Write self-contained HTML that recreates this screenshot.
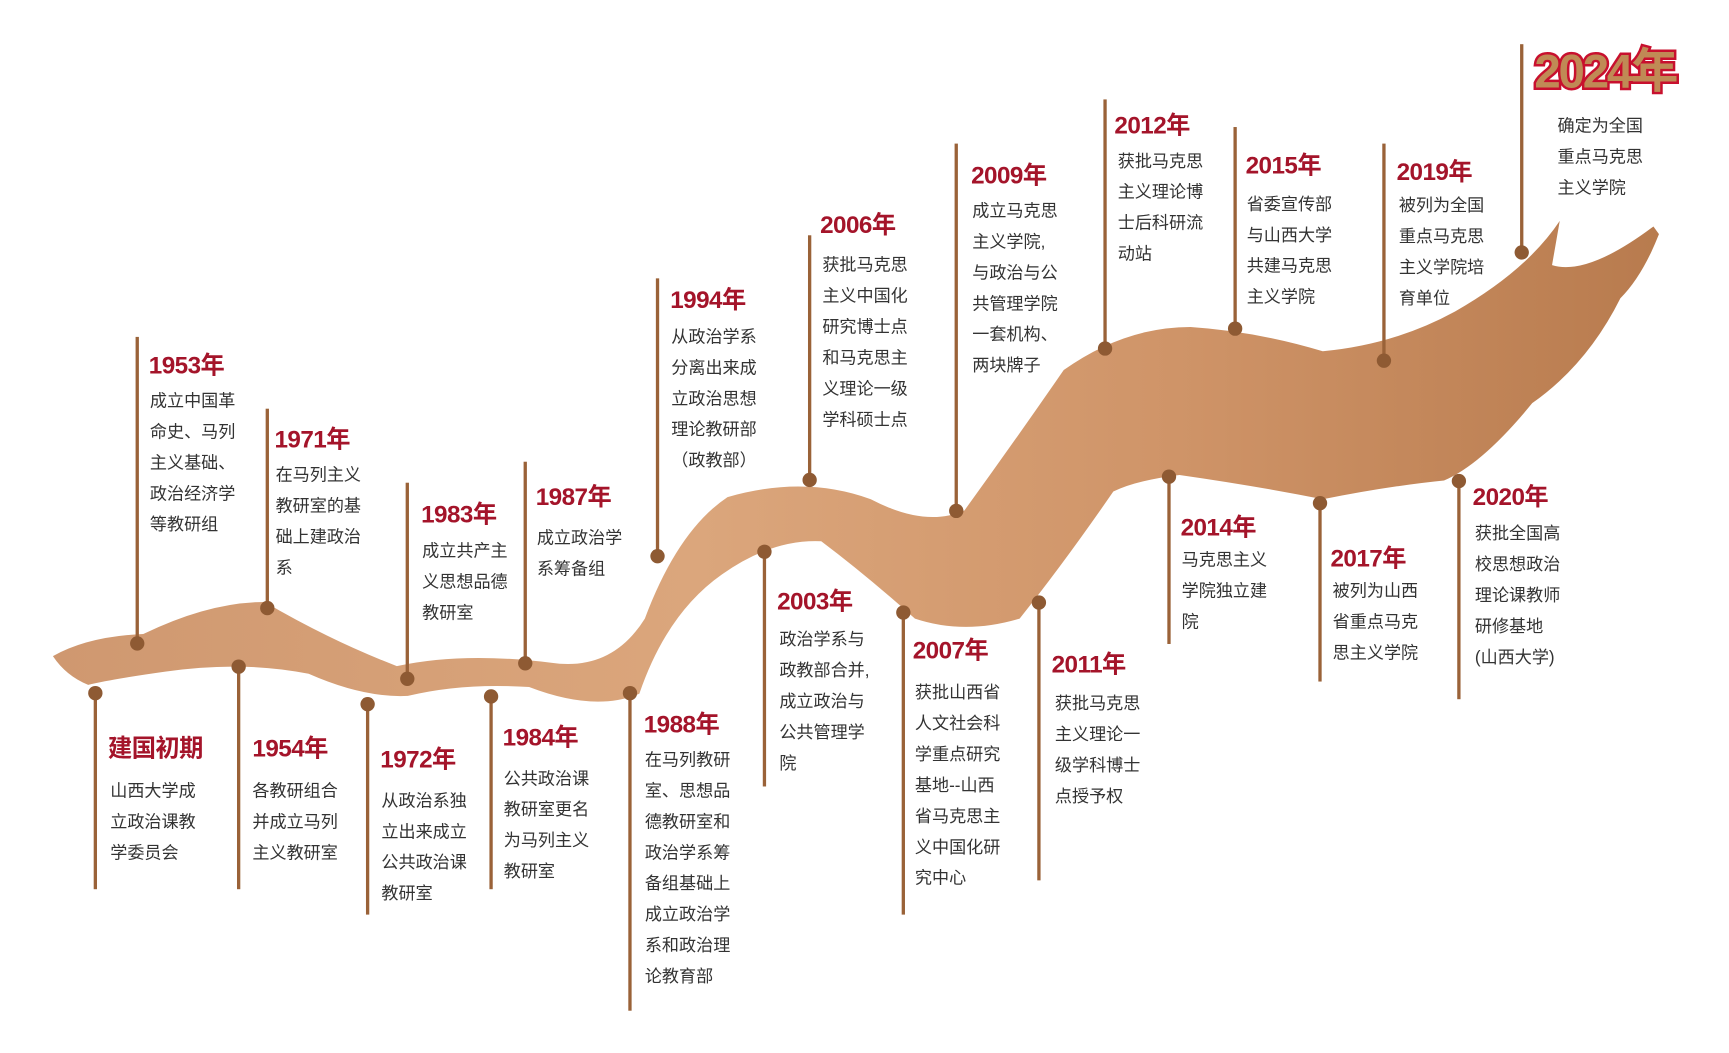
<!DOCTYPE html>
<html><head><meta charset="utf-8"><style>
html,body{margin:0;padding:0;background:#fff;}
body{width:1729px;height:1053px;overflow:hidden;position:relative;}
#w{position:absolute;left:0;top:0;width:1560px;height:950px;transform:scale(1.1023,1.1046);transform-origin:0 0;font-family:"Liberation Sans","Noto Sans CJK SC",sans-serif;}
.t{position:absolute;color:#a4142a;font-weight:bold;font-size:22px;line-height:28px;white-space:nowrap;letter-spacing:-0.5px;}
.b{position:absolute;color:#333;font-size:15.5px;line-height:28px;white-space:nowrap;}
.l{position:absolute;width:2.5px;background:#9a6238;}
.d{position:absolute;width:13px;height:13px;border-radius:50%;background:#8e5a33;margin:-6.5px 0 0 -6.5px;}
</style></head><body><div id="w">
<svg width="1560" height="950" style="position:absolute;left:0;top:0">
<defs><linearGradient id="g" x1="0" y1="0" x2="1" y2="0">
<stop offset="0" stop-color="#cf9870"/><stop offset="0.4" stop-color="#dba67c"/><stop offset="0.7" stop-color="#cf9468"/><stop offset="1" stop-color="#b87b4e"/></linearGradient></defs>
<path fill="url(#g)" d="M48,594 Q80,576 130,574 Q190,545 240,545 Q300,580 360,603 Q420,590 500,600 Q555,608 585,560 Q615,480 660,450 Q730,430 790,452 Q840,478 875,462 Q920,400 965,335 Q1020,296 1080,296 Q1140,300 1200,318 Q1265,312 1320,282 Q1385,245 1415,200 L1408,240 Q1440,250 1500,205 L1505,212 Q1490,250 1470,270 Q1440,330 1390,365 Q1345,420 1310,435 Q1260,440 1200,452 Q1140,440 1070,430 Q1030,435 1010,445 Q965,510 925,560 Q875,575 830,560 Q785,520 745,490 Q700,488 655,520 Q605,555 580,628 Q540,645 480,622 Q420,618 370,630 Q330,632 280,610 Q220,598 150,608 Q100,615 80,620 Q60,612 48,594 Z"/>
</svg>
<div class="l" style="left:85px;top:627px;height:178px"></div><div class="d" style="left:86px;top:627px"></div>
<div class="l" style="left:123px;top:305px;height:277px"></div><div class="d" style="left:124px;top:582px"></div>
<div class="l" style="left:215px;top:603px;height:202px"></div><div class="d" style="left:216px;top:603px"></div>
<div class="l" style="left:241px;top:370px;height:180px"></div><div class="d" style="left:242px;top:550px"></div>
<div class="l" style="left:332px;top:637px;height:191px"></div><div class="d" style="left:333px;top:637px"></div>
<div class="l" style="left:368px;top:437px;height:177px"></div><div class="d" style="left:369px;top:614px"></div>
<div class="l" style="left:444px;top:630px;height:175px"></div><div class="d" style="left:445px;top:630px"></div>
<div class="l" style="left:475px;top:418px;height:182px"></div><div class="d" style="left:476px;top:600px"></div>
<div class="l" style="left:570px;top:627px;height:288px"></div><div class="d" style="left:571px;top:627px"></div>
<div class="l" style="left:595px;top:252px;height:251px"></div><div class="d" style="left:596px;top:503px"></div>
<div class="l" style="left:692px;top:499px;height:213px"></div><div class="d" style="left:693px;top:499px"></div>
<div class="l" style="left:733px;top:213px;height:221px"></div><div class="d" style="left:734px;top:434px"></div>
<div class="l" style="left:818px;top:554px;height:274px"></div><div class="d" style="left:819px;top:554px"></div>
<div class="l" style="left:866px;top:130px;height:332px"></div><div class="d" style="left:867px;top:462px"></div>
<div class="l" style="left:941px;top:545px;height:252px"></div><div class="d" style="left:942px;top:545px"></div>
<div class="l" style="left:1001px;top:90px;height:225px"></div><div class="d" style="left:1002px;top:315px"></div>
<div class="l" style="left:1059px;top:431px;height:152px"></div><div class="d" style="left:1060px;top:431px"></div>
<div class="l" style="left:1119px;top:115px;height:182px"></div><div class="d" style="left:1120px;top:297px"></div>
<div class="l" style="left:1196px;top:455px;height:162px"></div><div class="d" style="left:1197px;top:455px"></div>
<div class="l" style="left:1254px;top:130px;height:196px"></div><div class="d" style="left:1255px;top:326px"></div>
<div class="l" style="left:1322px;top:435px;height:198px"></div><div class="d" style="left:1323px;top:435px"></div>
<div class="l" style="left:1379px;top:40px;height:188px"></div><div class="d" style="left:1380px;top:228px"></div>
<div class="t" style="left:98px;top:664px">建国初期</div><div class="b" style="left:100px;top:703px">山西大学成<br>立政治课教<br>学委员会</div>
<div class="t" style="left:135px;top:317px">1953年</div><div class="b" style="left:136px;top:350px">成立中国革<br>命史、马列<br>主义基础、<br>政治经济学<br>等教研组</div>
<div class="t" style="left:229px;top:664px">1954年</div><div class="b" style="left:229px;top:703px">各教研组合<br>并成立马列<br>主义教研室</div>
<div class="t" style="left:249px;top:384px">1971年</div><div class="b" style="left:250px;top:417px">在马列主义<br>教研室的基<br>础上建政治<br>系</div>
<div class="t" style="left:345px;top:674px">1972年</div><div class="b" style="left:346px;top:712px">从政治系独<br>立出来成立<br>公共政治课<br>教研室</div>
<div class="t" style="left:382px;top:452px">1983年</div><div class="b" style="left:383px;top:486px">成立共产主<br>义思想品德<br>教研室</div>
<div class="t" style="left:456px;top:654px">1984年</div><div class="b" style="left:457px;top:692px">公共政治课<br>教研室更名<br>为马列主义<br>教研室</div>
<div class="t" style="left:486px;top:436px">1987年</div><div class="b" style="left:487px;top:474px">成立政治学<br>系筹备组</div>
<div class="t" style="left:584px;top:642px">1988年</div><div class="b" style="left:585px;top:675px">在马列教研<br>室、思想品<br>德教研室和<br>政治学系筹<br>备组基础上<br>成立政治学<br>系和政治理<br>论教育部</div>
<div class="t" style="left:608px;top:258px">1994年</div><div class="b" style="left:609px;top:292px">从政治学系<br>分离出来成<br>立政治思想<br>理论教研部<br>（政教部）</div>
<div class="t" style="left:705px;top:531px">2003年</div><div class="b" style="left:707px;top:566px">政治学系与<br>政教部合并,<br>成立政治与<br>公共管理学<br>院</div>
<div class="t" style="left:744px;top:190px">2006年</div><div class="b" style="left:746px;top:227px">获批马克思<br>主义中国化<br>研究博士点<br>和马克思主<br>义理论一级<br>学科硕士点</div>
<div class="t" style="left:828px;top:575px">2007年</div><div class="b" style="left:830px;top:614px">获批山西省<br>人文社会科<br>学重点研究<br>基地--山西<br>省马克思主<br>义中国化研<br>究中心</div>
<div class="t" style="left:881px;top:145px">2009年</div><div class="b" style="left:882px;top:178px">成立马克思<br>主义学院,<br>与政治与公<br>共管理学院<br>一套机构、<br>两块牌子</div>
<div class="t" style="left:954px;top:588px">2011年</div><div class="b" style="left:957px;top:624px">获批马克思<br>主义理论一<br>级学科博士<br>点授予权</div>
<div class="t" style="left:1011px;top:100px">2012年</div><div class="b" style="left:1014px;top:133px">获批马克思<br>主义理论博<br>士后科研流<br>动站</div>
<div class="t" style="left:1071px;top:464px">2014年</div><div class="b" style="left:1072px;top:494px">马克思主义<br>学院独立建<br>院</div>
<div class="t" style="left:1130px;top:136px">2015年</div><div class="b" style="left:1131px;top:172px">省委宣传部<br>与山西大学<br>共建马克思<br>主义学院</div>
<div class="t" style="left:1207px;top:492px">2017年</div><div class="b" style="left:1209px;top:522px">被列为山西<br>省重点马克<br>思主义学院</div>
<div class="t" style="left:1267px;top:142px">2019年</div><div class="b" style="left:1269px;top:173px">被列为全国<br>重点马克思<br>主义学院培<br>育单位</div>
<div class="t" style="left:1336px;top:436px">2020年</div><div class="b" style="left:1338px;top:470px">获批全国高<br>校思想政治<br>理论课教师<br>研修基地<br>(山西大学)</div>
<div class="t" style="left:1392px;top:41px;font-size:43px;line-height:48px;color:#c08a55;-webkit-text-stroke:4.5px #c8102e;paint-order:stroke fill;letter-spacing:-2px">2024年</div>
<div class="b" style="left:1413px;top:101px">确定为全国<br>重点马克思<br>主义学院</div>
</div></body></html>
